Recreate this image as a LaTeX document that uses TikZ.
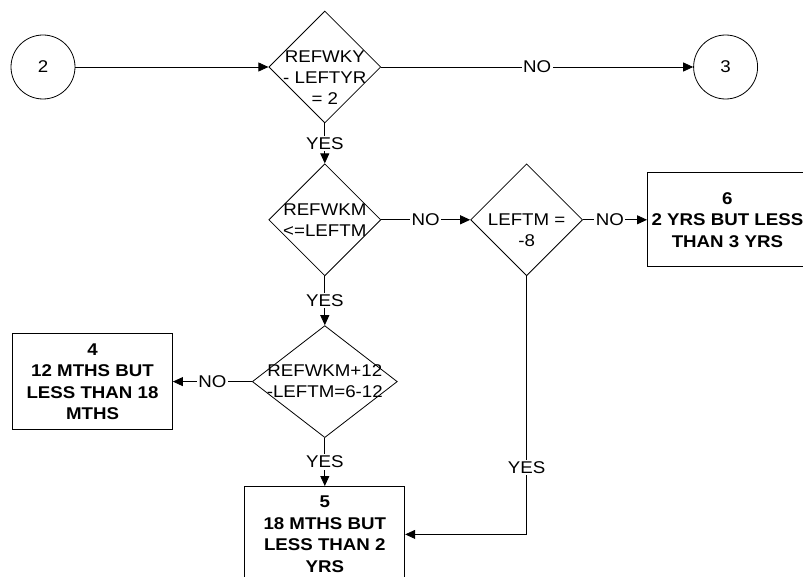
\documentclass[tikz,border=0pt]{standalone}
\usepackage{fontspec}
\setmainfont{Liberation Sans}[FakeStretch=1.1]
\usetikzlibrary{arrows.meta,positioning,shapes.geometric}

\begin{document}
\begin{tikzpicture}[
  x=1pt,y=1pt,
  font=\fontsize{17}{21}\selectfont,
  link/.style={draw,circle,line width=.8pt,minimum size=64pt,inner sep=0pt},
  decision/.style={draw,diamond,line width=.8pt,inner sep=0pt,minimum width=#1,minimum height=112pt},
  decision/.default=112pt,
  outcome/.style={draw,line width=.8pt,minimum width=160pt,minimum height=96pt,align=center,
    font=\fontsize{17}{21.5}\selectfont\bfseries},
  flow/.style={line width=.8pt,-{Triangle[length=10pt,width=9pt]}},
  answer/.style={fill=white,inner sep=1.5pt}
]
  \useasboundingbox (0,0) rectangle (803,-577);

  \node[link] (from2) at (43,-67) {2};
  \node[decision,right=193pt of from2,
    label={[align=center,yshift=-11pt]center:REFWKY\\- LEFTYR\\= 2}] (refwky) {};
  \node[link,right=312pt of refwky] (to3) {3};
  \node[decision,below=40pt of refwky,
    label={[align=center]center:REFWKM\\<=LEFTM}] (refwkm) {};
  \node[decision,right=89pt of refwkm,
    label={[align=center,yshift=-10pt]center:LEFTM =\\-8}] (leftm) {};
  \node[outcome,minimum height=94pt,right=64pt of leftm] (out6) {6\\2 YRS BUT LESS\\THAN 3 YRS};
  \node[decision=145pt,below=49pt of refwkm,
    label={[align=center]center:REFWKM+12\\-LEFTM=6-12}] (refwkmsum) {};
  \node[outcome,left=79pt of refwkmsum] (out4) {4\\12 MTHS BUT\\LESS THAN 18\\MTHS};
  \node[outcome,below=48pt of refwkmsum] (out5) {5\\18 MTHS BUT\\LESS THAN 2\\YRS};

  \draw[flow] (from2) -- (refwky);
  \draw[flow] (refwky) -- node[answer]{NO} (to3);
  \draw[flow] (refwky) -- node[answer]{YES} (refwkm);
  \draw[flow] (refwkm) -- node[answer]{NO} (leftm);
  \draw[flow] (leftm) -- node[answer,pos=.42]{NO} (out6);
  \draw[flow] (refwkm) -- node[answer]{YES} (refwkmsum);
  \draw[flow] (refwkmsum) -- node[answer]{NO} (out4);
  \draw[flow] (refwkmsum) -- node[answer]{YES} (out5);
  \draw[flow] (leftm) |- node[answer,pos=.37]{YES} (out5);
\end{tikzpicture}
\end{document}
